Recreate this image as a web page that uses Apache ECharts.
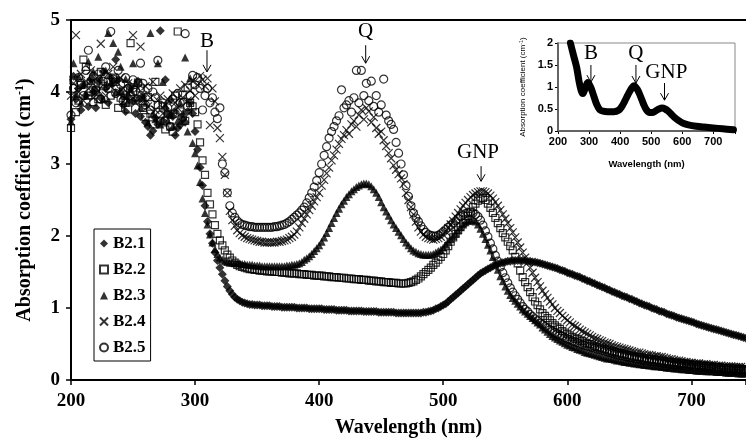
<!DOCTYPE html>
<html><head><meta charset="utf-8">
<script src="https://cdn.jsdelivr.net/npm/echarts@6/dist/echarts.min.js"></script>
<style>html,body{margin:0;padding:0;background:#fff}#c{width:746px;height:438px}</style>
</head><body><div id="c"></div>
<script>
// ---------- DATA ----------
const wavelengths = [
200,202,204,206,208,210,212,214,216,218,
220,222,224,226,228,230,232,234,236,238,
240,242,244,246,248,250,252,254,256,258,
260,262,264,266,268,270,272,274,276,278,
280,282,284,286,288,290,292,294,296,298,
300,302,304,306,308,310,312,314,316,318,
320,322,324,326,328,330,332,334,336,338,
340,342,344,346,348,350,352,354,356,358,
360,362,364,366,368,370,372,374,376,378,
380,382,384,386,388,390,392,394,396,398,
400,402,404,406,408,410,412,414,416,418,
420,422,424,426,428,430,432,434,436,438,
440,442,444,446,448,450,452,454,456,458,
460,462,464,466,468,470,472,474,476,478,
480,482,484,486,488,490,492,494,496,498,
500,502,504,506,508,510,512,514,516,518,
520,522,524,526,528,530,532,534,536,538,
540,542,544,546,548,550,552,554,556,558,
560,562,564,566,568,570,572,574,576,578,
580,582,584,586,588,590,592,594,596,598,
600,602,604,606,608,610,612,614,616,618,
620,622,624,626,628,630,632,634,636,638,
640,642,644,646,648,650,652,654,656,658,
660,662,664,666,668,670,672,674,676,678,
680,682,684,686,688,690,692,694,696,698,
700,702,704,706,708,710,712,714,716,718,
720,722,724,726,728,730,732,734,736,738,
740,742,744];

const b21 = [
3.62,4.22,3.90,4.05,3.75,4.10,3.95,3.80,4.18,4.00,
3.78,4.14,3.92,4.28,4.05,3.85,4.20,4.12,4.45,4.17,
4.00,3.82,3.73,3.94,4.08,3.88,3.70,4.15,3.66,3.94,
3.58,3.52,3.40,3.46,3.64,3.55,4.85,3.60,4.17,3.70,
3.89,3.66,3.40,3.50,3.54,3.62,3.58,3.73,3.85,3.70,
3.45,3.20,2.95,2.70,2.42,2.20,2.03,1.90,1.77,1.66,
1.56,1.47,1.38,1.30,1.24,1.19,1.15,1.12,1.10,1.08,
1.07,1.06,1.05,1.05,1.04,1.04,1.04,1.03,1.03,1.03,
1.03,1.02,1.02,1.02,1.02,1.01,1.01,1.01,1.01,1.01,
1.01,1.00,1.00,1.00,1.00,1.00,0.99,0.99,0.99,0.99,
0.99,0.99,0.98,0.98,0.98,0.98,0.98,0.97,0.97,0.97,
0.97,0.97,0.96,0.96,0.96,0.96,0.96,0.96,0.95,0.95,
0.95,0.95,0.95,0.95,0.94,0.94,0.94,0.94,0.94,0.94,
0.94,0.93,0.93,0.93,0.93,0.93,0.93,0.93,0.93,0.93,
0.93,0.93,0.94,0.94,0.95,0.96,0.97,0.99,1.00,1.02,
1.04,1.06,1.09,1.12,1.15,1.18,1.21,1.24,1.27,1.30,
1.33,1.36,1.39,1.42,1.45,1.48,1.50,1.52,1.54,1.56,
1.58,1.59,1.61,1.62,1.63,1.64,1.65,1.65,1.66,1.66,
1.66,1.66,1.66,1.66,1.65,1.65,1.64,1.64,1.63,1.62,
1.61,1.60,1.59,1.58,1.57,1.56,1.55,1.53,1.52,1.51,
1.49,1.48,1.47,1.45,1.44,1.43,1.41,1.40,1.38,1.37,
1.35,1.34,1.32,1.31,1.29,1.28,1.26,1.25,1.23,1.22,
1.20,1.19,1.17,1.16,1.15,1.13,1.12,1.10,1.09,1.07,
1.06,1.04,1.03,1.02,1.00,0.99,0.98,0.96,0.95,0.94,
0.92,0.91,0.90,0.89,0.87,0.86,0.85,0.84,0.83,0.82,
0.81,0.80,0.78,0.77,0.76,0.75,0.74,0.73,0.72,0.71,
0.70,0.69,0.68,0.67,0.66,0.65,0.64,0.63,0.62,0.61,
0.60,0.59,0.58];

const b22 = [
3.50,4.16,3.72,3.88,4.10,4.45,4.35,3.95,4.12,3.86,
4.02,3.90,4.28,4.08,3.82,4.14,3.95,4.20,4.14,3.78,
3.92,4.02,3.85,3.76,4.68,4.00,3.88,4.13,4.05,3.78,
3.65,3.93,3.70,3.55,4.14,3.82,3.60,3.80,3.48,3.70,
3.52,3.45,3.95,4.84,3.73,3.96,3.60,4.06,3.85,3.80,
3.72,3.55,3.30,3.05,2.85,2.60,2.44,2.30,2.15,2.03,
1.94,1.87,1.80,1.74,1.70,1.66,1.63,1.60,1.58,1.57,
1.56,1.55,1.54,1.54,1.53,1.53,1.52,1.52,1.52,1.51,
1.51,1.51,1.50,1.50,1.50,1.49,1.49,1.49,1.48,1.48,
1.48,1.48,1.47,1.47,1.47,1.46,1.46,1.46,1.45,1.45,
1.45,1.45,1.44,1.44,1.44,1.43,1.43,1.43,1.42,1.42,
1.42,1.41,1.41,1.41,1.40,1.40,1.40,1.39,1.39,1.39,
1.38,1.38,1.38,1.37,1.37,1.37,1.36,1.36,1.36,1.35,
1.35,1.35,1.34,1.34,1.34,1.34,1.35,1.36,1.37,1.39,
1.41,1.44,1.47,1.50,1.53,1.56,1.60,1.63,1.67,1.71,
1.75,1.80,1.86,1.92,1.98,2.03,2.08,2.13,2.18,2.23,
2.28,2.34,2.40,2.45,2.49,2.52,2.53,2.50,2.45,2.39,
2.32,2.25,2.18,2.11,2.04,1.98,1.92,1.86,1.80,1.71,
1.62,1.52,1.43,1.36,1.29,1.22,1.15,1.09,1.04,0.98,
0.93,0.89,0.86,0.83,0.79,0.76,0.73,0.71,0.68,0.66,
0.64,0.62,0.60,0.58,0.57,0.55,0.54,0.52,0.51,0.50,
0.49,0.47,0.46,0.45,0.44,0.43,0.42,0.41,0.40,0.39,
0.38,0.37,0.37,0.36,0.35,0.34,0.34,0.33,0.32,0.32,
0.31,0.30,0.30,0.29,0.29,0.28,0.28,0.27,0.27,0.26,
0.26,0.25,0.25,0.24,0.24,0.23,0.23,0.23,0.22,0.22,
0.21,0.21,0.21,0.20,0.20,0.20,0.19,0.19,0.19,0.18,
0.18,0.18,0.17,0.17,0.17,0.16,0.16,0.16,0.16,0.15,
0.15,0.15,0.14];

const b23 = [
3.59,4.40,3.98,4.22,3.85,4.10,3.95,4.42,4.15,4.28,
4.05,4.49,4.20,3.90,4.30,4.82,4.12,4.68,4.00,4.56,
4.35,3.95,4.18,3.88,4.05,4.40,4.12,3.92,3.78,3.92,
3.85,3.58,4.82,3.70,3.62,4.40,3.55,4.14,3.82,3.60,
3.68,3.52,3.75,3.60,3.85,3.70,4.48,3.45,4.19,3.29,
3.15,2.98,2.75,2.52,2.32,2.16,2.02,1.91,1.82,1.75,
1.70,1.67,1.65,1.64,1.63,1.63,1.62,1.62,1.62,1.61,
1.61,1.60,1.60,1.60,1.59,1.59,1.59,1.58,1.58,1.58,
1.58,1.58,1.58,1.58,1.58,1.58,1.58,1.59,1.59,1.60,
1.60,1.61,1.62,1.64,1.67,1.69,1.72,1.75,1.79,1.83,
1.87,1.92,1.98,2.04,2.11,2.18,2.25,2.32,2.38,2.44,
2.49,2.54,2.58,2.62,2.65,2.68,2.70,2.72,2.73,2.73,
2.72,2.69,2.65,2.60,2.54,2.47,2.40,2.34,2.28,2.22,
2.16,2.11,2.06,2.01,1.96,1.91,1.87,1.83,1.80,1.78,
1.76,1.75,1.74,1.74,1.74,1.74,1.75,1.77,1.79,1.81,
1.84,1.88,1.92,1.96,2.00,2.04,2.08,2.12,2.16,2.19,
2.21,2.22,2.22,2.20,2.16,2.10,2.03,1.96,1.88,1.80,
1.71,1.62,1.53,1.44,1.37,1.30,1.24,1.18,1.14,1.10,
1.06,1.02,0.98,0.95,0.92,0.89,0.86,0.83,0.80,0.77,
0.73,0.70,0.67,0.64,0.61,0.59,0.57,0.55,0.53,0.51,
0.49,0.48,0.46,0.45,0.43,0.42,0.41,0.39,0.38,0.37,
0.36,0.35,0.34,0.33,0.32,0.31,0.30,0.30,0.29,0.28,
0.27,0.27,0.26,0.25,0.25,0.24,0.24,0.23,0.23,0.22,
0.22,0.21,0.21,0.20,0.20,0.19,0.19,0.19,0.18,0.18,
0.17,0.17,0.17,0.16,0.16,0.16,0.15,0.15,0.15,0.14,
0.14,0.14,0.13,0.13,0.13,0.13,0.12,0.12,0.12,0.12,
0.11,0.11,0.11,0.11,0.10,0.10,0.10,0.10,0.10,0.09,
0.09,0.09,0.09];

const b24 = [
3.95,4.12,4.79,4.00,4.25,3.88,4.15,4.05,4.30,3.92,
4.18,4.02,4.67,4.10,3.95,4.25,4.08,4.35,4.15,3.98,
4.20,4.05,3.90,4.12,4.00,4.79,3.85,4.05,4.63,3.95,
4.08,3.80,3.92,4.14,3.75,3.88,3.95,3.70,3.82,3.90,
3.72,3.98,3.85,3.78,4.05,3.92,4.10,3.88,4.02,4.15,
3.95,4.10,4.22,4.17,4.08,4.19,3.54,4.05,3.87,3.50,
3.36,3.10,2.85,2.60,2.35,2.22,2.14,2.08,2.04,2.01,
1.99,1.97,1.96,1.95,1.94,1.93,1.92,1.92,1.91,1.91,
1.91,1.91,1.91,1.92,1.92,1.93,1.94,1.95,1.97,1.99,
2.02,2.06,2.12,2.18,2.24,2.30,2.36,2.42,2.48,2.54,
2.60,2.70,2.78,2.87,2.95,3.05,3.12,3.20,3.28,3.35,
3.40,3.47,3.42,3.55,3.60,3.52,3.68,3.75,3.62,3.78,
3.73,3.58,3.65,3.50,3.42,3.45,3.33,3.25,3.15,3.08,
2.98,2.92,2.86,2.80,2.72,2.60,2.50,2.40,2.30,2.20,
2.12,2.06,2.02,1.99,1.97,1.96,1.95,1.96,1.97,1.99,
2.02,2.06,2.11,2.16,2.21,2.27,2.32,2.37,2.42,2.46,
2.50,2.54,2.57,2.59,2.61,2.62,2.62,2.61,2.59,2.56,
2.52,2.47,2.42,2.36,2.30,2.24,2.18,2.11,2.05,1.98,
1.91,1.84,1.77,1.70,1.63,1.56,1.49,1.42,1.36,1.30,
1.24,1.19,1.14,1.09,1.05,1.00,0.96,0.93,0.89,0.86,
0.83,0.80,0.77,0.75,0.73,0.70,0.68,0.66,0.64,0.62,
0.60,0.58,0.57,0.55,0.54,0.52,0.51,0.50,0.48,0.47,
0.46,0.45,0.44,0.43,0.42,0.41,0.40,0.39,0.38,0.38,
0.37,0.36,0.35,0.35,0.34,0.33,0.33,0.32,0.32,0.31,
0.30,0.29,0.29,0.28,0.27,0.27,0.26,0.25,0.25,0.24,
0.24,0.23,0.23,0.23,0.22,0.22,0.22,0.21,0.21,0.21,
0.20,0.20,0.20,0.19,0.19,0.19,0.19,0.18,0.18,0.18,
0.18,0.17,0.17];

const b25 = [
3.68,4.05,3.85,4.20,4.12,3.95,4.30,4.58,4.00,4.22,
4.03,4.25,3.90,4.15,4.35,4.05,4.84,4.18,3.98,4.30,
4.10,3.88,4.20,4.05,3.95,4.17,4.02,3.90,4.40,4.12,
3.82,4.05,3.75,4.00,3.92,4.44,3.68,3.85,3.60,3.78,
3.52,3.90,3.70,3.98,3.85,3.65,4.81,3.80,3.95,4.23,
4.10,4.20,4.05,3.75,3.95,4.05,3.85,3.92,3.72,3.63,
3.78,3.00,2.88,2.60,2.42,2.32,2.26,2.21,2.18,2.16,
2.15,2.14,2.13,2.13,2.12,2.12,2.12,2.12,2.12,2.12,
2.12,2.12,2.13,2.13,2.14,2.15,2.16,2.18,2.20,2.23,
2.26,2.29,2.32,2.36,2.40,2.46,2.53,2.60,2.68,2.77,
2.88,3.00,3.12,3.24,3.36,3.45,3.52,3.60,3.67,4.03,
3.78,3.82,3.88,3.72,3.92,4.30,3.85,4.30,3.95,4.12,
3.88,4.15,3.80,3.95,3.72,3.82,4.18,3.68,3.60,3.55,
3.48,3.30,3.15,3.00,2.85,2.70,2.55,2.42,2.32,2.25,
2.20,2.14,2.09,2.05,2.02,2.01,2.00,2.00,2.01,2.03,
2.06,2.09,2.12,2.15,2.18,2.21,2.24,2.27,2.29,2.31,
2.32,2.33,2.32,2.30,2.27,2.22,2.15,2.07,1.99,1.90,
1.82,1.73,1.65,1.57,1.49,1.42,1.35,1.28,1.22,1.17,
1.12,1.07,1.02,0.98,0.95,0.91,0.88,0.85,0.82,0.79,
0.77,0.74,0.72,0.70,0.68,0.66,0.64,0.62,0.61,0.59,
0.57,0.56,0.54,0.53,0.52,0.50,0.49,0.48,0.47,0.46,
0.45,0.44,0.43,0.42,0.41,0.40,0.39,0.38,0.37,0.36,
0.35,0.34,0.34,0.33,0.32,0.31,0.31,0.30,0.29,0.29,
0.28,0.27,0.27,0.26,0.26,0.25,0.25,0.24,0.24,0.23,
0.23,0.22,0.22,0.21,0.21,0.21,0.20,0.20,0.19,0.19,
0.19,0.18,0.18,0.18,0.17,0.17,0.17,0.16,0.16,0.16,
0.15,0.15,0.15,0.15,0.14,0.14,0.14,0.14,0.13,0.13,
0.13,0.13,0.12];

const seriesNames = ['B2.1','B2.2','B2.3','B2.4','B2.5'];
const xTickValues = [200,300,400,500,600,700];

const insetWavelengths = [240,250,260,270,280,290,296,305,315,325,335,345,360,380,395,405,415,425,435,445,455,465,475,485,495,505,515,525,535,545,555,565,575,590,605,620,645,670,700,730,765];
const insetAbsorption  = [2.00,1.72,1.45,1.05,0.85,1.02,1.10,1.00,0.80,0.60,0.48,0.45,0.44,0.44,0.47,0.55,0.68,0.82,0.95,1.03,0.95,0.80,0.62,0.48,0.42,0.42,0.46,0.50,0.52,0.50,0.45,0.38,0.31,0.23,0.17,0.14,0.11,0.09,0.07,0.05,0.03];

// annotations (label, anchor in data coords)
const mainNotes = [
  {label:'B',   x:309.6, yText:4.70, yTop:4.58, yTip:4.28},
  {label:'Q',   x:437.5, yText:4.84, yTop:4.65, yTip:4.40},
  {label:'GNP', x:528.0, yText:3.16, yTop:2.97, yTip:2.76, ax:530.5}
];
const insetNotes = [
  {label:'B',   x:306, yText:1.77, yTop:1.50, yTip:1.11},
  {label:'Q',   x:451, yText:1.77, yTop:1.50, yTip:1.09},
  {label:'GNP', x:549, yText:1.32, yTop:1.09, yTip:0.70, ax:543}
];

// ---------- CHART ----------
const SERIF = '"Liberation Serif","Times New Roman",serif';
const SANS = '"Liberation Sans",Arial,sans-serif';
const seriesData = [b21,b22,b23,b24,b25];
const symbols = [
  {symbol:'diamond', size:9, style:{color:'#000'}},
  {symbol:'rect', size:7, style:{color:'rgba(0,0,0,0)', borderColor:'#000', borderWidth:1.2}},
  {symbol:'triangle', size:8, style:{color:'#000'}},
  {symbol:'path://M0,0L10,10M10,0L0,10', size:8, style:{color:'rgba(0,0,0,0)', borderColor:'#000', borderWidth:1.2}},
  {symbol:'circle', size:8, style:{color:'rgba(0,0,0,0)', borderColor:'#000', borderWidth:1.2}}
];

const mainSeries = seriesNames.map((name, k) => ({
  name, type:'scatter', xAxisIndex:0, yAxisIndex:0,
  symbol: symbols[k].symbol, symbolSize: symbols[k].size,
  itemStyle: symbols[k].style,
  data: wavelengths.map((w, i) => [w, seriesData[k][i]]),
  emphasis:{disabled:true}, silent:true, z: 2 + k
}));

const option = {
  animation:false,
  backgroundColor:'#fff',
  grid:[
    {left:71, top:20, right:0, bottom:58, containLabel:false, outerBoundsMode:'none'},
    {left:558, top:43, right:11, bottom:307, show:true, borderColor:'#888', borderWidth:1, backgroundColor:'transparent', z:5, outerBoundsMode:'none'}
  ],
  legend:{
    data: seriesNames, orient:'vertical', left:94, top:229,
    padding:[6,5,5,5], itemGap:9, itemWidth:8, itemHeight:8,
    borderColor:'#000', borderWidth:1, backgroundColor:'#fff', selectedMode:false,
    textStyle:{fontFamily:SERIF, fontWeight:'bold', fontSize:17, color:'#000', lineHeight:16}
  },
  xAxis:[
    {type:'value', gridIndex:0, min:200, max:744, interval:100, position:'bottom',
     axisLine:{show:true, lineStyle:{color:'#000', width:2}},
     axisTick:{show:true, length:5, lineStyle:{color:'#000', width:1.5}},
     axisLabel:{color:'#000', fontFamily:SERIF, fontWeight:'bold', fontSize:19, margin:12,
       formatter:v => (xTickValues.indexOf(v) >= 0 ? String(v) : '')},
     splitLine:{show:false},
     name:'Wavelength (nm)', nameLocation:'middle', nameGap:38,
     nameTextStyle:{color:'#000', fontFamily:SERIF, fontWeight:'bold', fontSize:20}},
    {type:'value', gridIndex:0, min:200, max:744, position:'top',
     axisLine:{show:true, lineStyle:{color:'#000', width:2}},
     axisTick:{show:false}, axisLabel:{show:false}, splitLine:{show:false}},
    {type:'value', gridIndex:1, min:200, max:770, interval:100,
     axisLine:{show:true, lineStyle:{color:'#000', width:1.5}},
     axisTick:{show:true, length:3, lineStyle:{color:'#000'}},
     axisLabel:{color:'#000', fontFamily:SANS, fontWeight:'bold', fontSize:11, margin:5,
       formatter:v => (v % 100 === 0 && v <= 700 ? String(v) : '')},
     splitLine:{show:false},
     name:'Wavelength (nm)', nameLocation:'middle', nameGap:28,
     nameTextStyle:{color:'#000', fontFamily:SANS, fontWeight:'bold', fontSize:9.5}}
  ],
  yAxis:[
    {type:'value', gridIndex:0, min:0, max:5, interval:1,
     axisLine:{show:true, lineStyle:{color:'#000', width:2}},
     axisTick:{show:true, length:5, lineStyle:{color:'#000', width:1.5}},
     axisLabel:{color:'#000', fontFamily:SERIF, fontWeight:'bold', fontSize:19, margin:11},
     splitLine:{show:false},
     name:'{t|Absorption coefficient (cm}{s|-1}{t|)}', nameLocation:'middle', nameGap:35, nameRotate:90,
     nameTextStyle:{color:'#000', rich:{
       t:{fontFamily:SERIF, fontWeight:'bold', fontSize:20, color:'#000', lineHeight:22},
       s:{fontFamily:SERIF, fontWeight:'bold', fontSize:12, color:'#000', lineHeight:22, verticalAlign:'top'}
     }}},
    {type:'value', gridIndex:1, min:0, max:2, interval:0.5,
     axisLine:{show:true, lineStyle:{color:'#000', width:1.5}},
     axisTick:{show:true, length:3, lineStyle:{color:'#000'}},
     axisLabel:{color:'#000', fontFamily:SANS, fontWeight:'bold', fontSize:11, margin:5},
     splitLine:{show:false},
     name:'{t|Absorption coefficient (cm}{s|-1}{t|)}', nameLocation:'middle', nameGap:30, nameRotate:90,
     nameTextStyle:{color:'#000', rich:{
       t:{fontFamily:SANS, fontSize:8, color:'#000', lineHeight:10},
       s:{fontFamily:SANS, fontSize:5.5, color:'#000', lineHeight:10, verticalAlign:'top'}
     }}}
  ],
  series: mainSeries.concat([{
    name:'inset', type:'line', xAxisIndex:2, yAxisIndex:1, showSymbol:false, smooth:0.35,
    data: insetWavelengths.map((w,i)=>[w, insetAbsorption[i]]),
    lineStyle:{color:'#000', width:7, cap:'round', join:'round'},
    silent:true, z:10
  }])
};

const chart = echarts.init(document.getElementById('c'), null, {renderer:'canvas'});
chart.setOption(option);

function noteGraphics(notes, gridIndex, fontSize, headW, headL) {
  const out = [];
  notes.forEach(n => {
    const pt = chart.convertToPixel({gridIndex}, [n.x, n.yText]);
    const ax = n.ax !== undefined ? n.ax : n.x;
    const a1 = chart.convertToPixel({gridIndex}, [ax, n.yTop]);
    const a2 = chart.convertToPixel({gridIndex}, [ax, n.yTip]);
    out.push({type:'text', x:pt[0], y:pt[1], z:50,
      style:{text:n.label, fill:'#000', fontFamily:SERIF, fontSize, align:'center', verticalAlign:'middle'}});
    out.push({type:'line', z:50, shape:{x1:a1[0], y1:a1[1], x2:a2[0], y2:a2[1]}, style:{stroke:'#000', lineWidth:1}});
    out.push({type:'polyline', z:50, shape:{points:[[a2[0]-headW, a2[1]-headL],[a2[0], a2[1]],[a2[0]+headW, a2[1]-headL]]}, style:{stroke:'#000', lineWidth:1, fill:null}});
  });
  return out;
}
chart.setOption({graphic: noteGraphics(mainNotes, 0, 21, 4, 7).concat(noteGraphics(insetNotes, 1, 21, 4, 7))});
</script>
</body></html>
